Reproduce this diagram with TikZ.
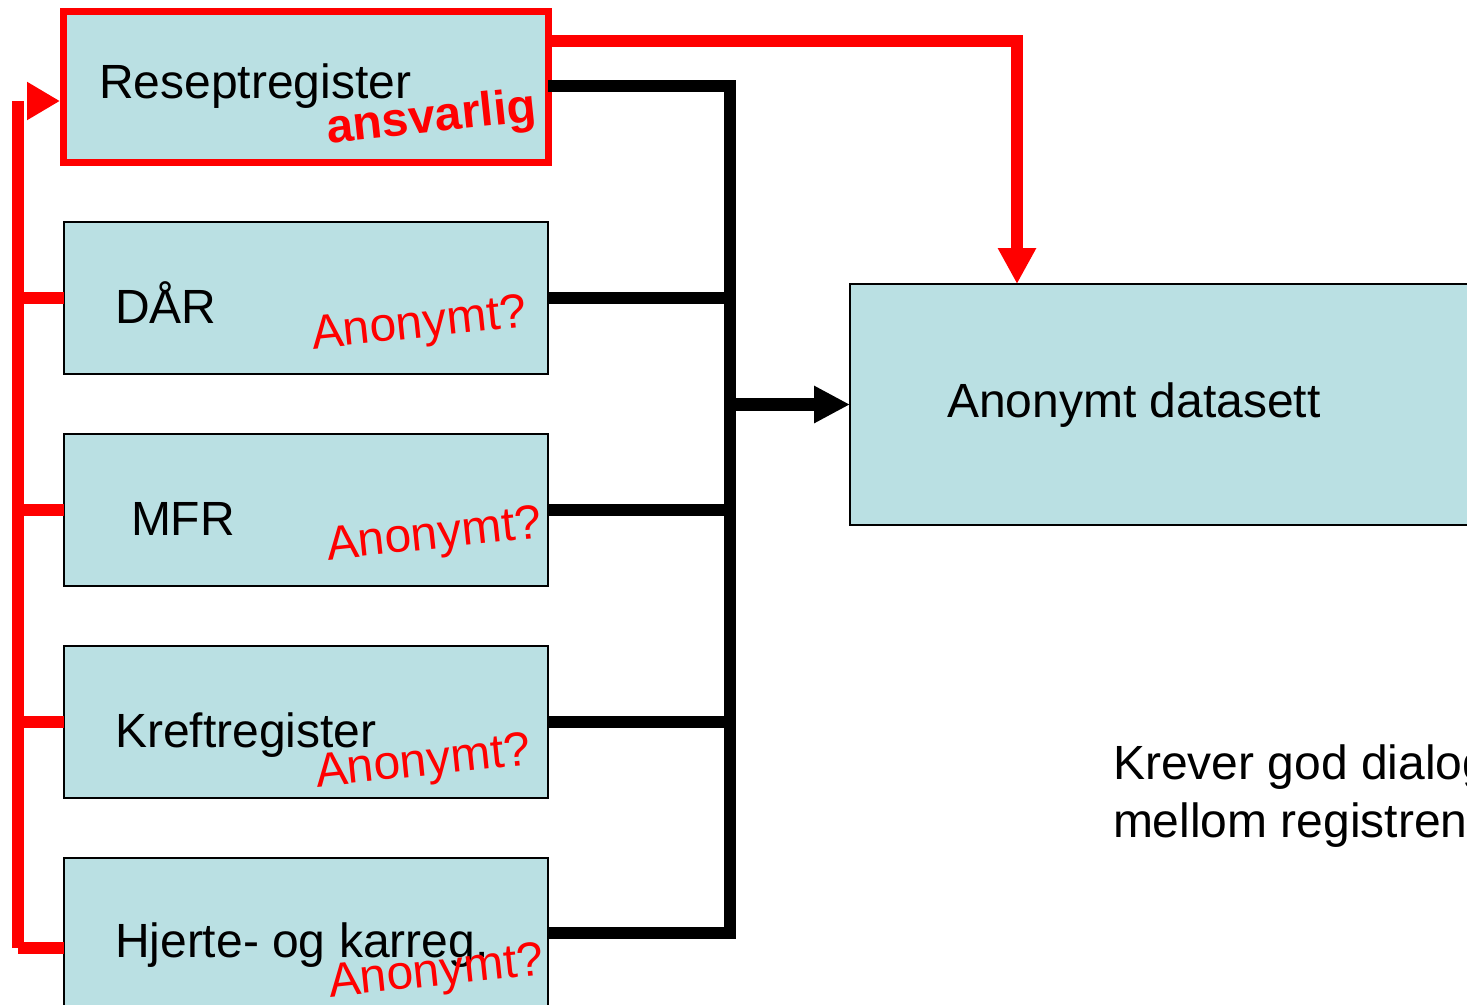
\documentclass[tikz,border=0pt]{standalone}
\usepackage{fontspec}
\setmainfont{Liberation Sans}
\usetikzlibrary{arrows.meta}
\definecolor{boxfill}{RGB}{186,224,227}
\definecolor{redline}{RGB}{255,0,0}
\tikzset{
  regbox/.style={draw=black, line width=2pt, fill=boxfill, inner sep=0pt, outer sep=0pt},
  mainbox/.style={draw=redline, line width=7pt, fill=boxfill, inner sep=0pt, outer sep=0pt},
  lbl/.style={anchor=base west, inner sep=0pt, outer sep=0pt, font=\fontsize{48}{56}\selectfont},
  redlbl/.style={lbl, text=redline, rotate=6},
  blk/.style={draw=black, line width=12.5pt},
  rdl/.style={draw=redline, line width=12pt},
}
\begin{document}
\begin{tikzpicture}[x=1pt, y=-1pt]
\useasboundingbox (0,0) rectangle (1467,1004);
\clip (0,0) rectangle (1467,1004);
% boxes
\node[mainbox, minimum width=485pt, minimum height=151pt] (resept) at (305.5,86.5) {};
\node[regbox, minimum width=484pt, minimum height=152pt] (dar) at (306,298) {};
\node[regbox, minimum width=484pt, minimum height=152pt] (mfr) at (306,510) {};
\node[regbox, minimum width=484pt, minimum height=152pt] (kreft) at (306,722) {};
\node[regbox, minimum width=484pt, minimum height=150pt] (hjerte) at (306,933) {};
\node[regbox, minimum width=630pt, minimum height=241pt] (data) at (1165,404.5) {};
% labels
\node[lbl] (tresept) at (99,98) {Reseptregister};
\node[redlbl, font=\fontsize{48}{56}\selectfont\bfseries] (tansv) at (328,143) {ansvarlig};
\node[lbl] (tdar) at (115,323) {DÅR};
\node[redlbl] (adar) at (313,349) {Anonymt?};
\node[lbl] (tmfr) at (131,535) {MFR};
\node[redlbl] (amfr) at (328,560) {Anonymt?};
\node[lbl] (tkreft) at (115,747) {Kreftregister};
\node[redlbl] (akreft) at (317,787) {Anonymt?};
\node[lbl] (thjerte) at (115,957) {Hjerte- og karreg.};
\node[redlbl] (ahjerte) at (330,997) {Anonymt?};
\node[lbl] (tdata) at (947,417) {Anonymt datasett};
\node[lbl] (tkrev1) at (1113,779) {Krever god dialog};
\node[lbl] (tkrev2) at (1113,837) {mellom registrene};
% black bus
\coordinate (bt) at (730,86);
\coordinate (bb) at (730,933);
\draw[blk] (resept.east |- bt) -- (bt) -- (bb) -- (hjerte.east |- bb);
\draw[blk] (dar.east) -- (dar.east -| bt);
\draw[blk] (mfr.east) -- (mfr.east -| bt);
\draw[blk] (kreft.east) -- (kreft.east -| bt);
\draw[blk, -{Triangle[length=36pt, width=35pt]}] (bt |- data.west) -- (data.west);
% red connectors
\coordinate (rt) at (1017,41);
\draw[rdl, -{Triangle[length=36pt, width=36pt]}] (resept.east |- rt) -- (rt) -- (rt |- data.north);
\coordinate (lt) at (18,101);
\coordinate (lb) at (18,948);
\draw[rdl] (lb) -- (lt);
\draw[rdl, shorten >=3pt, -{Triangle[length=33pt, width=36pt]}] ([xshift=10pt]lt) -- (resept.west |- lt);
\draw[rdl] (dar.west) -- (dar.west -| lt);
\draw[rdl] (mfr.west) -- (mfr.west -| lt);
\draw[rdl] (kreft.west) -- (kreft.west -| lt);
\draw[rdl] (lb) -- (hjerte.west |- lb);
\end{tikzpicture}
\end{document}
